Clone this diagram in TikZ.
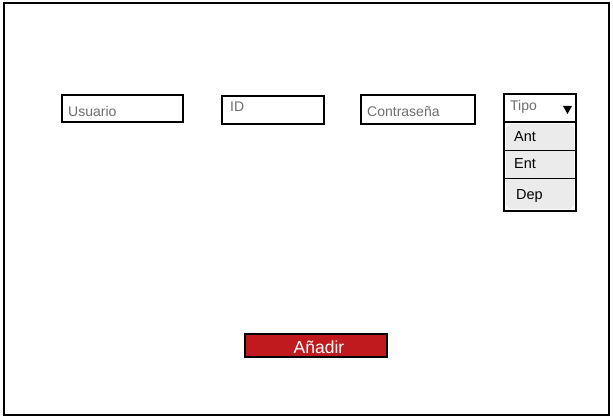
\documentclass[tikz,border=0pt]{standalone}
\usepackage{fontspec}
\setmainfont{Liberation Sans}
\definecolor{ph}{HTML}{6E6E6E}
\definecolor{btnred}{HTML}{C0191E}
\definecolor{listgray}{HTML}{EBEBEB}
\begin{document}
\begin{tikzpicture}[x=1pt,y=-1pt,
  field/.style={draw=black,line width=1.8pt,fill=white},
  phtext/.style={text=ph,font=\fontsize{14}{16}\selectfont,anchor=west,inner sep=0pt},
  itemtext/.style={text=black,font=\fontsize{14.5}{16}\selectfont,anchor=west,inner sep=0pt},
  sep/.style={draw=black,line width=1pt}]
\useasboundingbox (0,0) rectangle (613,419);
% frame
\draw[line width=2pt] (4,3) rectangle (609,415);
% fields
\draw[field] (62,95) rectangle (183,122);
\node[phtext] (usuario) at (68,111) {Usuario};
\draw[field] (222,96) rectangle (324,124);
\node[phtext] (id) at (230,107) {ID};
\draw[field] (361,95) rectangle (475,124);
\node[phtext] (pass) at (367,112) {Contraseña};
% dropdown
\draw[field] (504,94) rectangle (576,122);
\node[phtext] (tipo) at (510,107) {Tipo};
\fill[black] (563,106) -- (572,106) -- (567.5,114) -- cycle;
\draw[line width=1.5pt,fill=white] (504,122) rectangle (576,211);
\fill[listgray,rounded corners=6pt] (506,124) rectangle (574,209);
\draw[sep] (504,151) -- (576,151);
\draw[sep] (504,179) -- (576,179);
\node[itemtext] (ant) at (514,137) {Ant};
\node[itemtext] (ent) at (514,164) {Ent};
\node[itemtext] (dep) at (516,196) {Dep};
% button
\draw[fill=btnred,draw=black,line width=1.2pt] (245,334) rectangle (387,357);
\node[text=white,font=\fontsize{17.5}{19}\selectfont,inner sep=0pt] (add) at (319,347) {Añadir};
\end{tikzpicture}
\end{document}
